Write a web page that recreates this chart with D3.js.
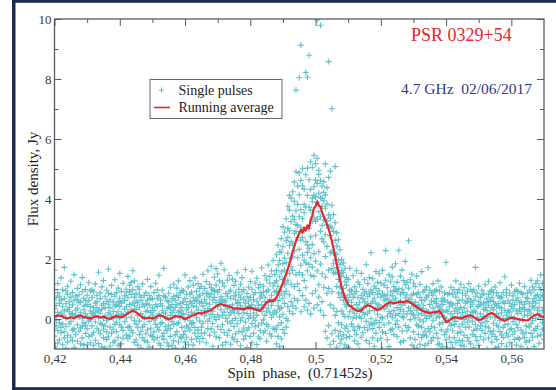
<!DOCTYPE html>
<html><head><meta charset="utf-8">
<script src="https://cdn.jsdelivr.net/npm/d3@7"></script>
<style>html,body{margin:0;padding:0;background:#fff}svg{display:block}</style>
</head><body><svg id="chart" width="556" height="390"></svg>
<script>
// ---------- data ----------
const xTickValues = [0.42, 0.44, 0.46, 0.48, 0.50, 0.52, 0.54, 0.56];
const xTickLabels = ["0,42", "0,44", "0,46", "0,48", "0,5", "0,52", "0,54", "0,56"];
const xMinorTicks = [0.43, 0.45, 0.47, 0.49, 0.51, 0.53, 0.55];
const yTickValues = [0, 2, 4, 6, 8, 10];
const yTickLabels = ["0", "2", "4", "6", "8", "10"];
const yMinorTicks = [1, 3, 5, 7, 9];
const seriesNames = ["Single pulses", "Running average"];
const pulsarName = "PSR 0329+54";
const observation = "4.7 GHz  02/06/2017";

// single pulses: [spin phase, flux densities (Jy) of individual pulses]
const singlePulses = [
[0.4200,[0.34,-0.57,1.63,0.08,-0.92]],[0.4205,[-0.23,0.71,-1.06,0.45,-0.04]],[0.4210,[0.87,-0.38,0.22,-0.81,1.18]],[0.4215,[0.52,-0.13,-0.69,0.76,-1.24]],
[0.4220,[1.37,0.19,-0.46,-0.28,0.63]],[0.4225,[-0.86,0.41,0.97,-0.17,0.12]],[0.4230,[0.68,-0.63,0.27,1.72,-0.42]],[0.4235,[0.03,0.94,-0.98,0.51,-0.26]],
[0.4240,[-0.54,0.32,0.83,-0.77,1.09]],[0.4245,[0.58,-0.16,-1.27,0.24,0.39]],[0.4250,[0.14,1.26,-0.61,-0.08,0.73]],[0.4255,[-0.72,0.47,0.18,0.88,-0.37]],
[0.4260,[1.48,-0.33,0.62,-0.94,0.05]],[0.4265,[0.29,-1.03,0.77,0.13,-0.52]],[0.4270,[-0.19,0.64,-0.74,1.02,0.36]],[0.4275,[0.81,-0.41,0.07,-1.18,0.54]],
[0.4280,[0.21,1.14,-0.29,0.57,-0.83]],[0.4285,[-0.63,0.02,0.91,-0.24,1.38]],[0.4290,[0.43,-0.87,0.31,0.69,-0.12]],[0.4295,[0.98,-0.48,-0.21,0.17,0.61]],
[0.4300,[-0.32,0.79,-0.84,0.48,0.09]],[0.4305,[0.62,-0.07,1.21,-0.58,-1.13]],[0.4310,[-0.79,0.27,-0.02,0.93,0.42]],[0.4315,[0.18,-0.53,0.72,-0.23,0.97]],
[0.4320,[0.91,0.12,-0.88,0.37,-0.44]],[0.4325,[-0.09,1.17,0.53,-0.71,0.23]],[0.4330,[0.38,-0.31,-1.16,0.79,0.58]],[0.4335,[1.56,0.04,-0.39,0.28,-0.82]],
[0.4340,[-0.49,0.68,0.19,-0.14,0.87]],[0.4345,[0.33,-0.93,1.07,0.46,-0.18]],[0.4350,[0.01,0.52,-0.62,1.28,-0.34]],[0.4355,[0.74,-0.22,0.38,-0.97,0.11]],
[0.4360,[-0.43,0.96,-0.06,0.59,-0.68]],[0.4365,[0.49,-0.59,0.86,0.21,1.66]],[0.4370,[-0.91,0.16,0.64,-0.27,0.37]],[0.4375,[0.07,0.82,-0.47,1.12,-1.31]],
[0.4380,[0.57,-0.34,0.26,-0.79,0.02]],[0.4385,[-0.18,1.31,-0.73,0.43,0.76]],[0.4390,[0.88,0.13,-0.42,-0.11,0.47]],[0.4395,[-0.61,0.57,1.03,-0.88,0.24]],
[0.4400,[0.42,-0.19,0.69,0.03,1.52]],[0.4405,[0.17,-0.83,-0.27,0.92,0.53]],[0.4410,[-0.38,0.61,1.19,-0.64,0.14]],[0.4415,[0.77,-0.09,0.33,-1.08,0.62]],
[0.4420,[0.04,0.99,-0.53,0.41,0.89]],[0.4425,[0.71,-0.28,1.42,0.23,-0.66]],[0.4430,[-0.24,0.92,0.48,-0.57,1.13]],[0.4435,[1.22,0.31,-0.38,0.82,0.06]],
[0.4440,[0.53,-0.46,0.98,0.26,1.61]],[0.4445,[-0.06,0.73,0.44,1.27,-0.78]],[0.4450,[0.86,-0.17,0.59,-0.69,0.32]],[0.4455,[0.12,1.08,-0.87,0.54,-0.29]],
[0.4460,[-0.52,0.39,0.81,-0.07,0.99]],[0.4465,[0.63,-0.97,0.18,0.72,-0.41]],[0.4470,[-0.27,0.49,-0.63,1.17,0.08]],[0.4475,[0.78,-0.72,0.04,-0.19,0.43]],
[0.4480,[0.24,0.87,-1.21,0.51,-0.49]],[0.4485,[-0.77,0.28,0.63,-0.36,1.32]],[0.4490,[0.47,-0.08,-0.93,0.79,0.03]],[0.4495,[1.08,0.22,-0.54,-0.31,0.68]],
[0.4500,[-0.58,0.66,0.13,-1.02,0.37]],[0.4505,[0.28,-0.43,0.88,-0.03,-0.69]],[0.4510,[0.02,1.19,-0.18,0.48,-1.09]],[0.4515,[0.69,-0.62,0.42,-0.27,0.97]],
[0.4520,[-0.37,0.17,1.46,0.78,-0.81]],[0.4525,[0.51,-0.88,0.09,0.63,-0.16]],[0.4530,[0.96,0.29,-0.57,-0.12,0.44]],[0.4535,[-0.68,0.77,0.21,-0.47,1.69]],
[0.4540,[0.19,-0.26,0.73,-1.17,0.04]],[0.4545,[0.61,0.03,-0.79,0.34,-0.38]],[0.4550,[-0.21,0.86,0.41,-0.91,0.57]],[0.4555,[0.37,-0.58,1.06,0.12,-0.32]],
[0.4560,[-0.88,0.48,-0.08,0.68,0.22]],[0.4565,[0.76,-0.18,0.29,-0.73,1.16]],[0.4570,[0.09,0.62,-0.97,0.39,-0.53]],[0.4575,[-0.42,1.03,0.47,-0.16,0.79]],
[0.4580,[0.72,-0.76,0.23,1.27,-0.13]],[0.4585,[0.27,0.04,-0.59,0.87,0.52]],[0.4590,[-0.63,0.38,0.96,-0.28,0.13]],[0.4595,[0.93,-0.52,0.18,0.57,-0.98]],
[0.4600,[-0.02,0.68,-0.41,1.47,-0.77]],[0.4605,[0.48,-0.23,0.83,-0.61,0.31]],[0.4610,[-0.29,1.07,0.14,0.38,-0.86]],[0.4615,[0.83,-0.37,0.58,-0.06,1.28]],
[0.4620,[0.23,0.89,-0.68,0.52,-0.17]],[0.4625,[1.13,-0.12,0.43,-0.87,0.71]],[0.4630,[-0.47,0.59,1.37,0.18,-0.28]],[0.4635,[0.41,-0.66,0.92,0.04,0.63]],
[0.4640,[0.73,1.18,-0.37,0.29,-0.58]],[0.4645,[-0.07,0.53,0.79,-0.76,1.02]],[0.4650,[0.58,-0.27,0.21,1.09,-0.48]],
[0.4655,[0.86,-0.14,0.43,1.49,-0.65]],[0.4660,[0.11,1.02,-0.47,0.66,0.28]],[0.4665,[1.25,0.53,-0.79,0.19,0.84]],[0.4670,[-0.32,0.86,0.35,1.61,-0.08]],
[0.4675,[0.73,-0.54,1.16,0.01,0.49]],[0.4680,[0.15,1.76,-0.33,0.82,1.04]],[0.4685,[0.97,0.26,-0.91,0.63,-0.15]],[0.4690,[-0.44,1.39,0.72,0.07,0.93]],
[0.4695,[0.55,-0.02,1.13,1.68,-0.59]],[0.4700,[1.51,0.42,-0.26,0.89,0.14]],[0.4705,[0.06,0.98,0.61,-0.63,1.27]],[0.4710,[0.74,-0.35,1.86,0.31,0.55]],
[0.4715,[-0.19,0.66,0.12,1.21,-0.87]],[0.4720,[1.09,0.23,-0.45,0.57,1.64]],[0.4725,[0.42,-0.78,0.85,0.03,0.60]],[0.4730,[-0.54,1.29,0.36,0.76,-0.09]],
[0.4735,[0.91,0.13,-0.38,1.45,0.40]],[0.4740,[0.22,-0.84,0.69,-0.14,0.96]],[0.4745,[1.33,0.47,-0.05,0.28,-0.61]],[0.4750,[-0.25,0.77,1.12,-0.68,0.20]],
[0.4755,[0.64,-0.49,0.02,1.26,0.89]],[0.4760,[0.30,1.54,-0.75,0.52,-0.16]],[0.4765,[-0.41,0.18,0.81,0.99,0.56]],[0.4770,[1.16,-0.06,0.44,-0.89,0.71]],
[0.4775,[0.04,0.90,-0.43,0.35,1.38]],[0.4780,[0.66,-0.67,0.98,0.21,-0.30]],[0.4785,[-0.10,0.53,1.65,-0.56,0.39]],[0.4790,[0.85,0.18,-0.37,0.74,-0.95]],
[0.4795,[0.43,1.06,0.02,-0.29,0.60]],[0.4800,[-0.58,0.72,1.25,0.11,0.33]],[0.4805,[0.99,-0.15,0.47,-0.79,1.59]],[0.4810,[0.20,0.81,-0.48,0.64,0.05]],
[0.4815,[-0.26,1.19,0.37,-0.04,0.88]],[0.4820,[0.59,-0.85,0.13,1.36,0.29]],[0.4825,[1.04,0.33,-0.60,0.46,-0.21]],[0.4830,[-0.39,0.87,0.70,-0.66,1.15]],
[0.4835,[0.48,1.71,-0.14,0.25,0.77]],[0.4840,[0.90,-0.46,1.09,0.38,-0.03]],[0.4845,[0.12,0.58,1.44,-0.39,0.71]],[0.4850,[1.30,-0.18,0.26,0.92,-0.74]],
[0.4855,[0.36,0.97,-0.24,1.80,0.55]],[0.4860,[-0.49,0.65,1.19,0.21,1.42]],[0.4865,[0.79,0.06,1.60,-0.57,0.46]],[0.4870,[1.10,-0.31,0.58,1.95,0.15]],
[0.4875,[0.27,1.48,-0.35,0.90,1.21]],
[0.4880,[1.62,-0.34,0.93,2.14,0.21,-0.83,1.27]],[0.4885,[0.44,1.81,-0.58,1.09,2.46,0.62,-0.21]],[0.4890,[2.23,0.07,1.41,-0.92,0.79,1.95,0.33]],
[0.4895,[0.91,2.68,-0.13,1.57,0.38,2.24,-0.66]],[0.4900,[1.84,0.16,2.41,0.69,-0.35,1.32,3.07]],[0.4905,[0.52,2.03,1.14,2.89,-0.48,1.63,0.84]],
[0.4910,[2.61,0.93,1.88,0.02,3.34,1.21,-0.27]],[0.4915,[1.29,3.02,0.41,2.19,3.76,-0.06,2.72]],[0.4920,[2.45,0.81,3.63,1.52,0.26,2.94,4.12]],
[0.4925,[1.16,3.24,2.03,0.57,2.58,4.03,1.74]],[0.4930,[3.43,1.62,2.51,0.18,4.24,2.09,0.43]],[0.4935,[2.86,1.08,3.92,2.27,0.69,3.31,4.57]],
[0.4940,[1.48,3.61,0.36,4.91,7.63,2.92,3.15]],[0.4945,[3.82,2.04,1.17,3.12,4.43,0.62,2.71]],[0.4950,[2.32,4.14,0.95,3.41,1.55,4.87,8.04]],
[0.4955,[3.65,1.79,2.63,4.62,0.24,3.06,9.13]],[0.4960,[2.13,4.44,3.34,0.78,2.72,5.01,1.47]],[0.4965,[3.54,0.41,4.33,1.28,2.94,1.96,3.82]],
[0.4970,[1.87,3.73,2.58,4.81,0.63,1.04,8.22]],[0.4975,[4.12,2.47,0.29,1.61,5.03,2.22,8.06]],[0.4980,[3.01,4.64,1.82,3.73,0.52,8.79,2.36]],
[0.4985,[2.74,4.32,3.62,1.46,5.24,0.17,2.04]],[0.4990,[4.03,0.85,3.27,5.06,1.73,3.91,2.48]],[0.4995,[3.39,5.46,2.18,4.41,0.36,1.42,4.13]],
[0.5000,[4.63,2.79,5.18,0.94,4.07,1.93,3.26]],[0.5005,[3.33,4.52,0.47,5.36,3.88,9.97,1.61]],[0.5010,[4.82,1.14,2.24,4.19,4.96,3.58,0.73]],
[0.5015,[2.93,4.04,3.41,1.83,4.61,9.79,0.28]],[0.5020,[3.76,0.58,4.43,3.12,1.51,4.02,2.67]],[0.5025,[2.57,4.58,3.29,1.06,3.94,0.12,4.22]],
[0.5030,[4.13,2.08,-0.41,5.17,1.39,2.81,3.69]],[0.5035,[2.42,3.83,0.86,3.14,4.38,-0.63,3.27]],[0.5040,[3.47,1.63,4.72,-0.22,3.03,8.58,1.02]],
[0.5045,[2.21,3.36,0.47,4.93,2.78,-0.86,3.09]],[0.5050,[3.04,1.68,-0.49,3.79,0.91,2.24,7.01]],[0.5055,[1.53,2.92,3.48,-0.74,2.19,0.36,1.84]],
[0.5060,[2.62,0.12,3.21,-0.38,1.97,5.08,1.56]],[0.5065,[1.08,2.43,-0.94,2.87,1.71,0.25,2.16]],[0.5070,[1.96,-0.57,1.49,2.64,-0.13,1.32,0.87]],
[0.5075,[0.72,1.82,-0.81,2.31,1.06,-0.42,1.53]],[0.5080,[1.43,0.27,1.98,-0.67,0.84,1.61,-0.19]],[0.5085,[0.16,1.54,-0.53,1.02,0.63,1.87,-1.04]],
[0.5090,[1.24,-0.31,0.77,1.69,0.08,-0.86,0.49]],[0.5095,[0.41,1.38,-0.62,0.71,-0.24,1.13,-0.96]],
[0.5100,[0.63,-0.41,1.32,0.08,-0.94]],[0.5105,[0.97,0.24,-0.58,0.81,1.69]],[0.5110,[-0.17,0.93,0.45,-1.12,0.56]],[0.5115,[0.31,1.44,-0.26,0.72,0.03]],
[0.5120,[0.84,-0.73,0.19,1.07,-0.38]],[0.5125,[-0.52,0.48,1.61,0.05,0.92]],[0.5130,[0.36,-0.24,0.71,-0.83,1.23]],[0.5135,[1.14,0.09,-1.03,0.54,-0.29]],
[0.5140,[0.02,0.79,0.33,-0.61,1.52]],[0.5145,[0.68,-0.46,0.99,0.22,-1.17]],[0.5150,[-0.28,1.31,0.57,0.86,0.14]],[0.5155,[0.91,-0.08,-0.72,0.43,1.81]],
[0.5160,[0.19,0.74,1.18,-0.36,0.51]],[0.5165,[1.38,-0.81,0.27,0.83,-0.21]],[0.5170,[-0.13,0.52,2.21,0.01,0.97]],[0.5175,[0.59,-0.63,0.88,1.34,-0.32]],
[0.5180,[0.28,1.09,-0.17,0.69,-0.91]],[0.5185,[1.02,-0.04,0.53,-0.47,1.58]],[0.5190,[-0.71,0.82,0.16,1.22,0.39]],[0.5195,[0.47,-0.28,1.51,-0.12,0.94]],
[0.5200,[1.19,0.37,-0.64,0.73,0.06]],[0.5205,[0.03,1.62,0.86,-0.43,-1.02]],[0.5210,[0.78,-0.19,0.34,1.13,0.61]],[0.5215,[-0.48,0.67,2.28,0.42,1.29]],
[0.5220,[0.44,1.04,-0.69,0.09,0.81]],[0.5225,[1.47,-0.13,0.63,-0.92,0.24]],[0.5230,[0.17,0.91,1.24,0.49,-0.37]],[0.5235,[-0.33,1.41,0.04,0.77,1.73]],
[0.5240,[0.93,0.28,-0.52,1.08,0.62]],[0.5245,[0.12,1.84,0.69,-0.18,0.98]],[0.5250,[1.23,-0.59,0.38,0.91,-0.06]],[0.5255,[0.54,2.29,1.01,-0.27,0.18]],
[0.5260,[-0.78,0.59,1.43,0.32,0.83]],[0.5265,[0.99,0.08,-0.41,1.63,0.47]],[0.5270,[0.26,0.88,1.28,-0.73,0.04]],[0.5275,[0.71,-0.22,0.53,1.14,1.92]],
[0.5280,[-0.39,1.22,0.17,0.81,-1.08]],[0.5285,[0.64,2.61,-0.28,0.37,1.03]],[0.5290,[1.31,-0.02,0.66,-0.63,0.27]],[0.5295,[0.18,0.79,-0.87,1.49,0.52]],
[0.5300,[0.86,-0.43,0.42,0.13,1.19]],
[0.5305,[0.42,-0.68,1.08,0.03,0.57]],[0.5310,[-0.19,0.82,0.29,-0.97,1.43]],[0.5315,[0.88,0.14,-0.51,0.47,-0.23]],[0.5320,[-0.03,1.16,-0.84,0.38,0.72]],
[0.5325,[0.61,-0.27,0.19,1.58,-0.62]],[0.5330,[-0.53,0.46,0.91,-0.09,0.34]],[0.5335,[0.97,-0.88,0.12,0.64,-0.41]],[0.5340,[0.27,0.73,-0.57,1.07,0.02]],
[0.5345,[-0.81,0.24,0.79,-0.32,1.71]],[0.5350,[0.48,-0.43,0.96,0.09,-1.14]],[0.5355,[0.13,0.87,-0.24,0.61,-0.73]],[0.5360,[0.79,-0.62,0.37,-0.06,1.18]],
[0.5365,[-0.29,0.58,-1.21,0.93,0.21]],[0.5370,[0.68,0.04,0.52,-0.48,0.97]],[0.5375,[-0.64,1.27,0.18,0.43,-0.86]],[0.5380,[0.39,-0.17,0.92,-0.83,0.08]],
[0.5385,[1.07,0.32,-0.37,0.59,-0.99]],[0.5390,[-0.12,0.69,-0.92,0.23,0.48]],[0.5395,[0.63,-0.52,0.06,-1.18,0.87]],[0.5400,[-0.43,0.28,1.89,-0.69,0.01]],
[0.5405,[0.24,-0.98,0.57,-0.34,0.82]],[0.5410,[0.86,-0.61,-0.13,0.41,-1.29]],[0.5415,[-0.22,0.53,-0.78,1.06,0.17]],[0.5420,[0.47,-0.39,0.83,-0.94,0.04]],
[0.5425,[0.02,0.97,-0.63,0.26,-0.18]],[0.5430,[0.73,-0.79,0.36,-0.08,1.27]],[0.5435,[-0.47,0.19,0.88,-1.09,0.52]],[0.5440,[0.31,-0.26,-0.72,0.62,0.98]],
[0.5445,[1.16,0.07,-0.43,-0.87,0.39]],[0.5450,[-0.73,0.63,0.22,0.86,-0.17]],[0.5455,[0.37,-0.54,1.04,-0.02,-0.91]],[0.5460,[0.11,0.79,-0.28,0.53,-1.23]],
[0.5465,[0.93,-0.11,0.58,-0.62,0.26]],[0.5470,[-0.27,1.18,0.03,0.68,-0.74]],[0.5475,[0.57,-0.83,0.41,0.99,0.13]],[0.5480,[0.22,0.49,-0.52,-0.07,0.91]],
[0.5485,[0.97,-0.38,0.27,0.62,-0.96]],[0.5490,[-0.58,0.76,1.72,-0.19,0.23]],[0.5495,[0.41,-0.72,0.87,0.06,-0.33]],[0.5500,[-0.04,0.58,-0.88,0.43,1.09]],
[0.5505,[0.72,-0.23,0.17,-0.59,0.48]],[0.5510,[-0.38,0.96,-0.12,0.81,-1.07]],[0.5515,[0.53,0.08,-0.69,0.32,0.86]],[0.5520,[1.14,-0.48,0.39,-0.24,0.03]],
[0.5525,[-0.08,0.67,-0.99,0.57,0.28]],[0.5530,[0.82,-0.29,0.46,1.26,-0.63]],[0.5535,[0.19,0.92,-0.42,0.07,0.61]],[0.5540,[-0.51,0.38,0.97,-0.77,0.72]],
[0.5545,[0.58,-0.14,0.31,0.88,-0.39]],[0.5550,[0.04,1.07,-0.58,0.49,-0.97]],[0.5555,[0.87,-0.68,0.18,-0.21,0.43]],[0.5560,[-0.26,0.52,0.77,-0.93,0.09]],
[0.5565,[0.38,-0.42,-0.06,0.69,1.21]],[0.5570,[0.73,0.21,-0.82,0.36,-0.53]],[0.5575,[-0.62,0.88,0.02,-0.28,0.57]],[0.5580,[0.29,-1.12,1.41,0.52,-0.19]],
[0.5585,[0.98,0.13,-0.47,-0.91,0.79]],[0.5590,[-0.17,0.61,0.27,-0.57,0.04]],[0.5595,[0.52,-0.79,0.86,0.23,-0.36]],[0.5600,[0.08,0.42,-0.32,1.13,-1.18]],
[0.5605,[0.77,-0.51,0.63,-0.09,0.34]],[0.5610,[-0.41,0.91,0.03,-0.68,0.48]],[0.5615,[0.62,-0.18,0.97,0.27,-0.87]],[0.5620,[0.18,0.71,-0.63,-0.29,0.92]],
[0.5625,[-0.67,0.33,0.54,1.19,-0.06]],[0.5630,[0.88,-0.37,-0.92,0.24,0.57]],[0.5635,[-0.03,0.83,0.38,-0.49,-1.07]],[0.5640,[0.49,-0.62,1.08,0.13,0.32]],
[0.5645,[-0.23,0.58,-0.77,0.71,-0.44]],[0.5650,[0.68,0.12,0.27,-0.98,0.87]],[0.5655,[0.32,-0.27,0.96,0.51,-0.72]],[0.5660,[-0.48,0.87,0.19,-0.16,1.29]],
[0.5665,[1.07,-0.06,-0.61,0.58,0.43]],[0.5670,[0.37,0.68,-0.38,0.97,-0.92]],[0.5675,[-0.32,1.18,0.53,0.02,0.77]],[0.5680,[0.81,-0.57,1.27,0.29,-0.24]],
[0.5685,[0.17,1.06,-0.81,0.62,0.39]],[0.5690,[0.97,0.04,0.73,-0.53,1.47]],[0.5695,[-0.36,0.79,0.28,1.19,-0.12]],[0.5700,[0.63,-0.31,0.98,0.37,-0.68]]
];

// running average: [spin phase, flux density (Jy)]
const runningAverage = [
[0.420,0.08],[0.421,0.12],[0.422,0.10],[0.423,0.05],[0.424,0.02],[0.425,0.06],[0.426,0.03],[0.427,0.08],[0.428,0.12],[0.429,0.07],
[0.430,0.04],[0.431,0.02],[0.432,0.06],[0.433,0.09],[0.434,0.05],[0.435,0.08],[0.436,0.03],[0.437,0.00],[0.438,0.06],[0.439,0.10],
[0.440,0.06],[0.441,0.08],[0.442,0.15],[0.443,0.22],[0.444,0.28],[0.445,0.22],[0.446,0.14],[0.447,0.04],[0.448,0.02],[0.449,0.05],
[0.450,0.02],[0.451,0.06],[0.452,0.12],[0.453,0.10],[0.454,0.04],[0.455,-0.02],[0.456,0.03],[0.457,0.10],[0.458,0.08],[0.459,0.06],
[0.460,0.00],[0.461,0.05],[0.462,0.10],[0.463,0.14],[0.464,0.20],[0.465,0.18],[0.466,0.22],[0.467,0.26],[0.468,0.30],[0.469,0.38],
[0.470,0.46],[0.471,0.50],[0.472,0.46],[0.473,0.44],[0.474,0.40],[0.475,0.34],[0.476,0.36],[0.477,0.34],[0.478,0.32],[0.479,0.36],
[0.480,0.38],[0.481,0.34],[0.482,0.30],[0.483,0.28],[0.484,0.40],[0.485,0.55],[0.486,0.62],[0.487,0.60],[0.488,0.72],[0.489,0.95],
[0.490,1.20],[0.491,1.50],[0.492,1.85],[0.493,2.25],[0.494,2.60],[0.4945,2.74],[0.495,2.85],[0.4955,2.98],[0.496,2.88],[0.4965,3.05],
[0.497,2.95],[0.4975,3.12],[0.498,3.02],[0.4985,3.30],[0.499,3.45],[0.4995,3.70],[0.500,3.75],[0.5005,3.92],[0.501,3.78],[0.5015,3.74],
[0.502,3.55],[0.503,3.30],[0.504,3.00],[0.505,2.60],[0.506,2.10],[0.507,1.55],[0.508,1.05],[0.509,0.70],
[0.510,0.48],[0.511,0.40],[0.512,0.32],[0.513,0.26],[0.514,0.28],[0.515,0.40],[0.516,0.46],[0.517,0.42],[0.518,0.36],[0.519,0.30],
[0.520,0.34],[0.521,0.44],[0.522,0.52],[0.523,0.56],[0.524,0.52],[0.525,0.55],[0.526,0.58],[0.527,0.56],[0.528,0.60],[0.529,0.55],
[0.530,0.48],[0.531,0.40],[0.532,0.32],[0.533,0.26],[0.534,0.22],[0.535,0.20],[0.536,0.22],[0.537,0.24],[0.538,0.26],[0.539,0.10],
[0.540,-0.10],[0.541,-0.05],[0.542,0.04],[0.543,0.06],[0.544,0.02],[0.545,0.03],[0.546,0.08],[0.547,0.12],[0.548,0.10],[0.549,0.02],
[0.550,-0.04],[0.551,0.00],[0.552,0.08],[0.553,0.16],[0.554,0.20],[0.555,0.12],[0.556,0.04],[0.557,-0.02],[0.558,-0.06],[0.559,0.00],
[0.560,0.04],[0.561,0.02],[0.562,0.00],[0.563,-0.02],[0.564,-0.04],[0.565,-0.05],[0.566,0.04],[0.567,0.12],[0.568,0.16],[0.569,0.10],
[0.570,0.06]
];

// ---------- drawing ----------
const W = 556, H = 390;
const plot = {left: 54.5, right: 544, top: 19, bottom: 349};
const cyan = "#5cc2cb", red = "#e8262b", navy = "#1e2a50", axisCol = "#5a5a5a", textCol = "#3a3a3a";
const serif = "'Liberation Serif','Times New Roman',serif";

const svg = d3.select("#chart");
svg.append("rect").attr("width", W).attr("height", H).attr("fill", "#fff");

// outer frame (navy)
svg.append("rect").attr("x", 12).attr("y", 0).attr("width", 3.5).attr("height", H).attr("fill", navy);
svg.append("rect").attr("x", 12).attr("y", 0).attr("width", W - 12).attr("height", 2.8).attr("fill", navy);
svg.append("rect").attr("x", 12).attr("y", 387.2).attr("width", W - 12).attr("height", 2.8).attr("fill", navy);

const x = d3.scaleLinear().domain([0.42, 0.57]).range([plot.left, plot.right]);
const y = d3.scaleLinear().domain([-1, 10]).range([plot.bottom, plot.top]);

svg.append("defs").append("clipPath").attr("id", "clip")
  .append("rect").attr("x", plot.left).attr("y", plot.top)
  .attr("width", plot.right - plot.left).attr("height", plot.bottom - plot.top);

// single pulses as "+" markers
const arm = 3;
let d = "";
singlePulses.forEach(([ph, vals]) => {
  const px = x(ph);
  vals.forEach(v => {
    const py = y(v);
    d += `M${(px - arm).toFixed(2)},${py.toFixed(2)}h${2 * arm}M${px.toFixed(2)},${(py - arm).toFixed(2)}v${2 * arm}`;
  });
});
const gData = svg.append("g").attr("clip-path", "url(#clip)");
gData.append("path").attr("d", d).attr("fill", "none").attr("stroke", cyan).attr("stroke-width", 1.1);

// running average
const line = d3.line().x(p => x(p[0])).y(p => y(p[1]));
gData.append("path").datum(runningAverage).attr("d", line)
  .attr("fill", "none").attr("stroke", red).attr("stroke-width", 2.2).attr("stroke-linejoin", "round");

// axes
function styleAxis(g) {
  g.select(".domain").remove();
  g.selectAll(".tick line").attr("stroke", axisCol).attr("stroke-width", 1);
  g.selectAll(".tick text").attr("fill", textCol).attr("font-family", serif).attr("font-size", 13);
}
const fmtX = (v, i) => xTickLabels[i];
const fmtY = (v, i) => yTickLabels[i];

svg.append("g").attr("transform", `translate(0,${plot.bottom})`)
  .call(d3.axisBottom(x).tickValues(xTickValues).tickFormat(fmtX).tickSize(-7).tickPadding(5)).call(styleAxis);
svg.append("g").attr("transform", `translate(0,${plot.bottom})`)
  .call(d3.axisBottom(x).tickValues(xMinorTicks).tickFormat("").tickSize(-4)).call(styleAxis);
svg.append("g").attr("transform", `translate(0,${plot.top})`)
  .call(d3.axisTop(x).tickValues(xTickValues).tickFormat("").tickSize(-7)).call(styleAxis);
svg.append("g").attr("transform", `translate(0,${plot.top})`)
  .call(d3.axisTop(x).tickValues(xMinorTicks).tickFormat("").tickSize(-4)).call(styleAxis);

svg.append("g").attr("transform", `translate(${plot.left},0)`)
  .call(d3.axisLeft(y).tickValues(yTickValues).tickFormat(fmtY).tickSize(-7).tickPadding(3)).call(styleAxis);
svg.append("g").attr("transform", `translate(${plot.left},0)`)
  .call(d3.axisLeft(y).tickValues(yMinorTicks).tickFormat("").tickSize(-4)).call(styleAxis);
svg.append("g").attr("transform", `translate(${plot.right},0)`)
  .call(d3.axisRight(y).tickValues(yTickValues).tickFormat("").tickSize(-7)).call(styleAxis);
svg.append("g").attr("transform", `translate(${plot.right},0)`)
  .call(d3.axisRight(y).tickValues(yMinorTicks).tickFormat("").tickSize(-4)).call(styleAxis);

// plot frame
svg.append("rect").attr("x", plot.left).attr("y", plot.top)
  .attr("width", plot.right - plot.left).attr("height", plot.bottom - plot.top)
  .attr("fill", "none").attr("stroke", axisCol).attr("stroke-width", 1.3);

// axis titles
svg.append("text").attr("x", 300).attr("y", 378).attr("text-anchor", "middle")
  .attr("font-family", serif).attr("font-size", 15).attr("fill", "#222")
  .style("white-space", "pre")
  .text("Spin  phase,  (0.71452s)");
svg.append("text").attr("transform", "translate(38,179) rotate(-90)").attr("text-anchor", "middle")
  .attr("font-family", serif).attr("font-size", 15).attr("fill", "#222")
  .text("Flux density, Jy");

// annotations
svg.append("text").attr("x", 411).attr("y", 40.5).attr("font-family", serif).attr("font-size", 18)
  .attr("fill", red).text(pulsarName);
svg.append("text").attr("x", 401).attr("y", 94).attr("font-family", serif).attr("font-size", 15.5)
  .attr("fill", "#2e3a8c").style("white-space", "pre").text(observation);

// legend
const lg = svg.append("g");
lg.append("rect").attr("x", 150).attr("y", 79.5).attr("width", 132).attr("height", 39)
  .attr("fill", "#fff").attr("stroke", "#6a6a6a").attr("stroke-width", 1);
lg.append("path").attr("d", "M159,90h5M161.5,87.5v5").attr("stroke", cyan).attr("stroke-width", 1.1);
lg.append("line").attr("x1", 154).attr("x2", 170).attr("y1", 107.5).attr("y2", 107.5)
  .attr("stroke", red).attr("stroke-width", 1.6);
lg.append("text").attr("x", 178.5).attr("y", 94.5).attr("font-family", serif).attr("font-size", 14)
  .attr("fill", "#222").text(seriesNames[0]);
lg.append("text").attr("x", 178.5).attr("y", 111.5).attr("font-family", serif).attr("font-size", 14)
  .attr("fill", "#222").text(seriesNames[1]);
</script>
</body></html>
